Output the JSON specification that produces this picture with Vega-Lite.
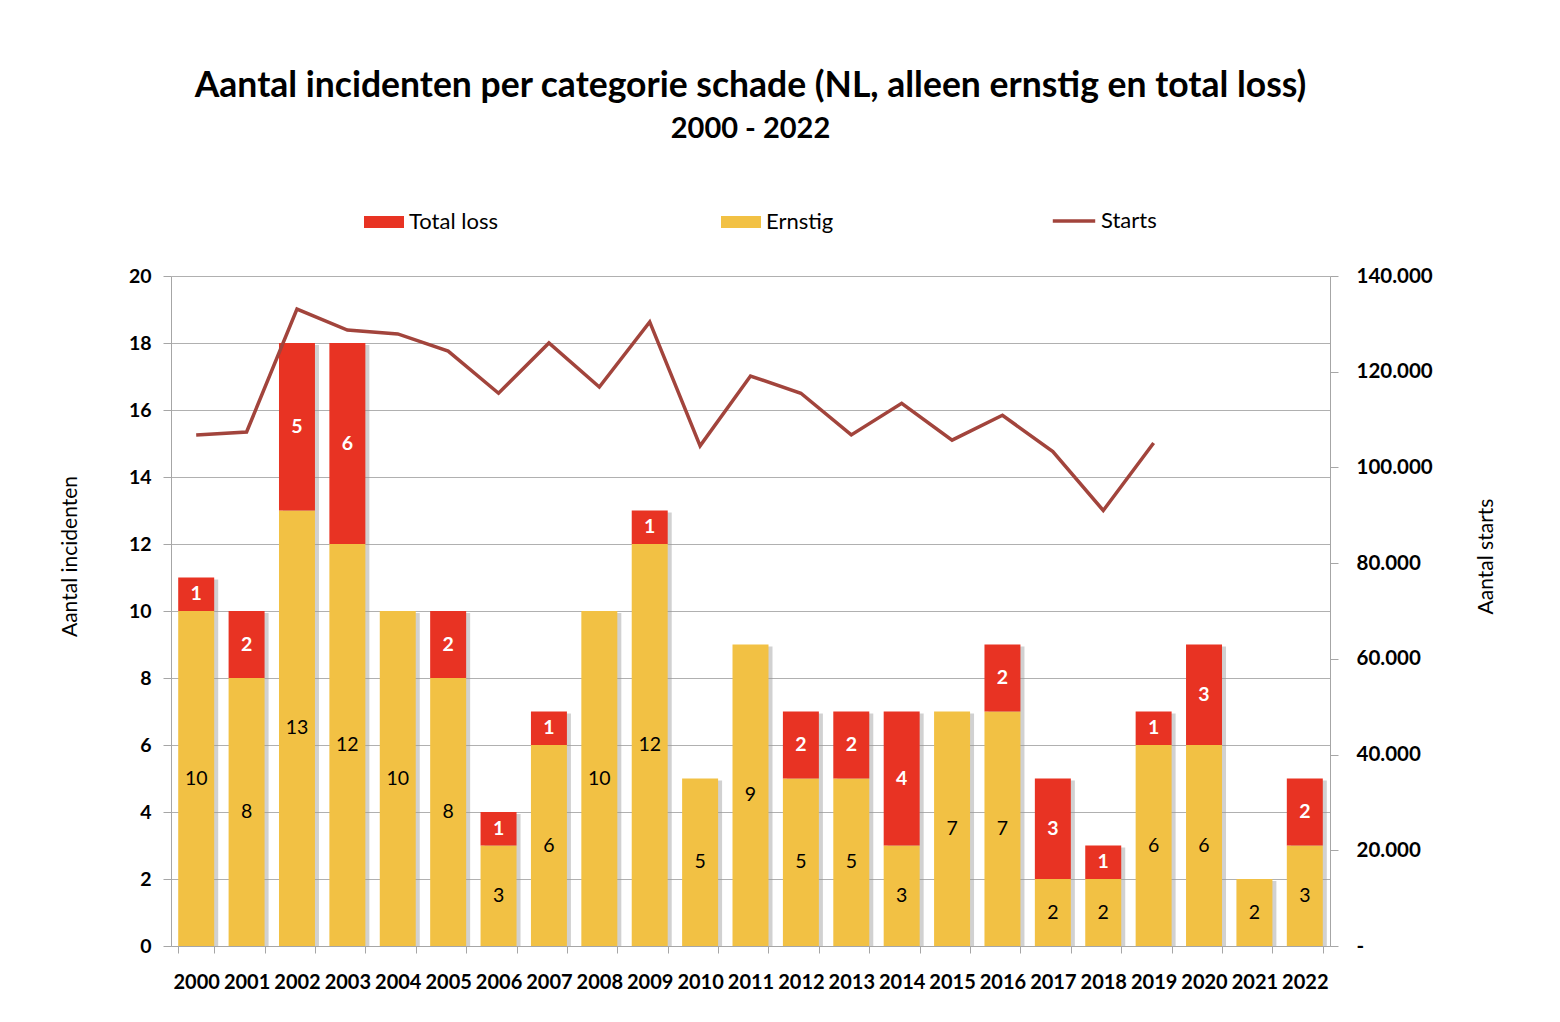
{
  "$schema": "https://vega.github.io/schema/vega-lite/v6.json",
  "width": 1159,
  "height": 670,
  "autosize": {"type": "none"},
  "padding": {"left": 171, "top": 276, "right": 230, "bottom": 76},
  "background": "white",
  "config": {
    "font": "Lato",
    "view": {"stroke": null},
    "axis": {"labelColor": "black", "titleColor": "black", "domainColor": "#a6a6a6", "tickColor": "#a6a6a6"}
  },
  "title": {
    "text": "Aantal incidenten per categorie schade (NL, alleen ernstig en total loss)",
    "subtitle": "2000 - 2022",
    "fontSize": 35.5,
    "fontWeight": "bold",
    "subtitleFontSize": 29,
    "subtitleFontWeight": "bold",
    "subtitleColor": "black",
    "subtitlePadding": 11,
    "offset": 54,
    "color": "black",
    "anchor": "middle"
  },
  "datasets": {
    "incidents": [
      {"year": "2000", "cat": "Ernstig", "value": 10}, {"year": "2000", "cat": "Total loss", "value": 1},
      {"year": "2001", "cat": "Ernstig", "value": 8}, {"year": "2001", "cat": "Total loss", "value": 2},
      {"year": "2002", "cat": "Ernstig", "value": 13}, {"year": "2002", "cat": "Total loss", "value": 5},
      {"year": "2003", "cat": "Ernstig", "value": 12}, {"year": "2003", "cat": "Total loss", "value": 6},
      {"year": "2004", "cat": "Ernstig", "value": 10},
      {"year": "2005", "cat": "Ernstig", "value": 8}, {"year": "2005", "cat": "Total loss", "value": 2},
      {"year": "2006", "cat": "Ernstig", "value": 3}, {"year": "2006", "cat": "Total loss", "value": 1},
      {"year": "2007", "cat": "Ernstig", "value": 6}, {"year": "2007", "cat": "Total loss", "value": 1},
      {"year": "2008", "cat": "Ernstig", "value": 10},
      {"year": "2009", "cat": "Ernstig", "value": 12}, {"year": "2009", "cat": "Total loss", "value": 1},
      {"year": "2010", "cat": "Ernstig", "value": 5},
      {"year": "2011", "cat": "Ernstig", "value": 9},
      {"year": "2012", "cat": "Ernstig", "value": 5}, {"year": "2012", "cat": "Total loss", "value": 2},
      {"year": "2013", "cat": "Ernstig", "value": 5}, {"year": "2013", "cat": "Total loss", "value": 2},
      {"year": "2014", "cat": "Ernstig", "value": 3}, {"year": "2014", "cat": "Total loss", "value": 4},
      {"year": "2015", "cat": "Ernstig", "value": 7},
      {"year": "2016", "cat": "Ernstig", "value": 7}, {"year": "2016", "cat": "Total loss", "value": 2},
      {"year": "2017", "cat": "Ernstig", "value": 2}, {"year": "2017", "cat": "Total loss", "value": 3},
      {"year": "2018", "cat": "Ernstig", "value": 2}, {"year": "2018", "cat": "Total loss", "value": 1},
      {"year": "2019", "cat": "Ernstig", "value": 6}, {"year": "2019", "cat": "Total loss", "value": 1},
      {"year": "2020", "cat": "Ernstig", "value": 6}, {"year": "2020", "cat": "Total loss", "value": 3},
      {"year": "2021", "cat": "Ernstig", "value": 2},
      {"year": "2022", "cat": "Ernstig", "value": 3}, {"year": "2022", "cat": "Total loss", "value": 2}
    ],
    "starts": [
      {"year": "2000", "series": "Starts", "starts": 106800},
      {"year": "2001", "series": "Starts", "starts": 107400},
      {"year": "2002", "series": "Starts", "starts": 133100},
      {"year": "2003", "series": "Starts", "starts": 128700},
      {"year": "2004", "series": "Starts", "starts": 127900},
      {"year": "2005", "series": "Starts", "starts": 124300},
      {"year": "2006", "series": "Starts", "starts": 115500},
      {"year": "2007", "series": "Starts", "starts": 126000},
      {"year": "2008", "series": "Starts", "starts": 116800},
      {"year": "2009", "series": "Starts", "starts": 130400},
      {"year": "2010", "series": "Starts", "starts": 104500},
      {"year": "2011", "series": "Starts", "starts": 119100},
      {"year": "2012", "series": "Starts", "starts": 115500},
      {"year": "2013", "series": "Starts", "starts": 106800},
      {"year": "2014", "series": "Starts", "starts": 113400},
      {"year": "2015", "series": "Starts", "starts": 105700},
      {"year": "2016", "series": "Starts", "starts": 110900},
      {"year": "2017", "series": "Starts", "starts": 103300},
      {"year": "2018", "series": "Starts", "starts": 91000},
      {"year": "2019", "series": "Starts", "starts": 105100}
    ]
  },
  "encoding": {
    "x": {
      "field": "year",
      "type": "ordinal",
      "scale": {"paddingInner": 0.286, "paddingOuter": 0.143},
      "axis": {
        "title": null,
        "labelAngle": 0,
        "labelFontSize": 20,
        "labelFontWeight": "bold",
        "labelPadding": 19,
        "tickBand": "extent",
        "tickSize": 7,
        "domainColor": "#a6a6a6"
      }
    }
  },
  "layer": [
    {
      "data": {"name": "incidents"},
      "mark": {"type": "bar", "color": "#9a9a9a", "opacity": 0.45, "xOffset": 4, "yOffset": 2},
      "encoding": {
        "y": {"aggregate": "sum", "field": "value", "type": "quantitative", "scale": {"domain": [0, 20]}, "axis": null}
      }
    },
    {
      "data": {"name": "incidents"},
      "mark": {"type": "bar"},
      "encoding": {
        "y": {
          "field": "value",
          "type": "quantitative",
          "stack": "zero",
          "scale": {"domain": [0, 20]},
          "axis": {
            "title": "Aantal incidenten",
            "titleFontSize": 21,
            "titleFontWeight": "normal",
            "titleX": -91,
            "titleY": 280,
            "values": [0, 2, 4, 6, 8, 10, 12, 14, 16, 18, 20],
            "labelFontSize": 19.5,
            "labelFontWeight": "bold",
            "labelPadding": 12,
            "tickSize": 8,
            "grid": true,
            "gridColor": "#b0b0b0",
            "gridWidth": 1.2
          }
        },
        "order": {"field": "cat", "sort": "ascending"},
        "fill": {
          "field": "cat",
          "type": "nominal",
          "scale": {"domain": ["Total loss", "Ernstig"], "range": ["#e83323", "#f2c144"]},
          "legend": {
            "title": null,
            "orient": "none",
            "direction": "horizontal",
            "legendX": 193,
            "legendY": -74,
            "columns": 2,
            "gridAlign": "all",
            "columnPadding": 223,
            "symbolType": "M-1,-0.3H1V0.3H-1Z",
            "symbolSize": 1600,
            "symbolStrokeWidth": 0,
            "labelFontSize": 22,
            "labelOffset": 5,
            "labelColor": "black"
          }
        }
      }
    },
    {
      "data": {"name": "incidents"},
      "mark": {"type": "text", "fontSize": 19.5, "baseline": "middle", "color": "black", "fontWeight": "normal"},
      "encoding": {
        "y": {"field": "value", "type": "quantitative", "stack": "zero", "bandPosition": 0.5, "scale": {"domain": [0, 20]}, "axis": null},
        "detail": {"field": "cat"},
        "order": {"field": "cat", "sort": "ascending"},
        "text": {"condition": {"test": "datum.cat === 'Ernstig'", "field": "value", "type": "quantitative"}, "value": ""}
      }
    },
    {
      "data": {"name": "incidents"},
      "mark": {"type": "text", "fontSize": 19.5, "baseline": "middle", "color": "white", "fontWeight": "bold"},
      "encoding": {
        "y": {"field": "value", "type": "quantitative", "stack": "zero", "bandPosition": 0.5, "scale": {"domain": [0, 20]}, "axis": null},
        "detail": {"field": "cat"},
        "order": {"field": "cat", "sort": "ascending"},
        "text": {"condition": {"test": "datum.cat === 'Total loss'", "field": "value", "type": "quantitative"}, "value": ""}
      }
    },
    {
      "data": {"name": "starts"},
      "mark": {"type": "line", "strokeWidth": 3.5},
      "encoding": {
        "y": {
          "field": "starts",
          "type": "quantitative",
          "scale": {"domain": [0, 140000]},
          "axis": {
            "orient": "right",
            "title": "Aantal starts",
            "titleFontSize": 21,
            "titleFontWeight": "normal",
            "titleAngle": 270,
            "titleX": 166,
            "titleY": 280,
            "values": [0, 20000, 40000, 60000, 80000, 100000, 120000, 140000],
            "labelExpr": "datum.value == 0 ? '-' : replace(format(datum.value, ','), ',', '.')",
            "labelFontSize": 20.5,
            "labelFontWeight": "bold",
            "labelPadding": 18,
            "tickSize": 8,
            "grid": false
          }
        },
        "stroke": {
          "field": "series",
          "type": "nominal",
          "scale": {"domain": ["Starts"], "range": ["#a2443c"]},
          "legend": {
            "title": null,
            "orient": "none",
            "legendX": 880,
            "legendY": -78,
            "symbolType": "stroke",
            "symbolSize": 1800,
            "symbolStrokeWidth": 3.5,
            "labelFontSize": 22,
            "labelOffset": 4,
            "labelColor": "black"
          }
        }
      }
    }
  ],
  "resolve": {"scale": {"y": "independent", "fill": "independent", "stroke": "independent"}}
}
